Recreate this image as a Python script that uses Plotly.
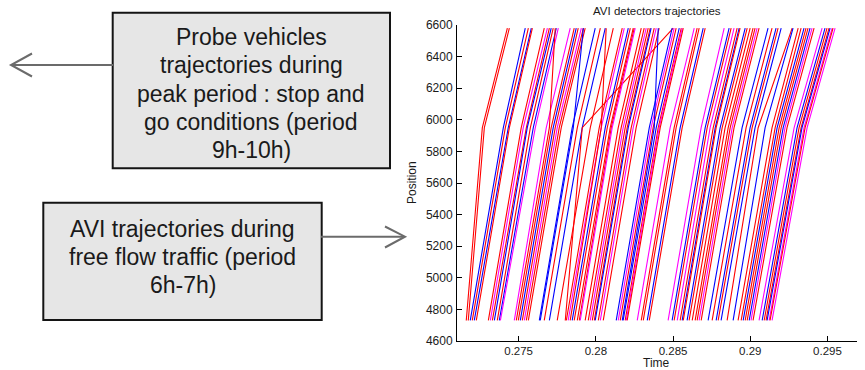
import plotly.graph_objects as go

# ---------------- data ----------------
# detector positions crossed by every trajectory (bottom, intermediate, top)
positions = [4730, 5950, 6580]

# passage times at each detector, one entry per vehicle
t_start = [
    0.27161, 0.27174, 0.27187, 0.27200, 0.27213, 0.27226,
    0.27304, 0.27317, 0.27330, 0.27343, 0.27362, 0.27375, 0.27382,
    0.27472, 0.27485, 0.27498, 0.27511, 0.27524, 0.27537, 0.27550, 0.27563,
    0.27634, 0.27640, 0.27666, 0.27699, 0.27750,
    0.27802, 0.27809, 0.27821, 0.27834, 0.27847, 0.27860, 0.27880, 0.27893, 0.27899,
    0.27931, 0.27951, 0.27964, 0.27977, 0.27990, 0.27996, 0.28016, 0.28029, 0.28048,
    0.28132, 0.28145, 0.28158, 0.28171, 0.28177, 0.28190, 0.28197, 0.28203,
    0.28268, 0.28294, 0.28307, 0.28333, 0.28346,
    0.28468, 0.28494, 0.28507, 0.28527, 0.28546, 0.28559, 0.28566,
    0.28591, 0.28604, 0.28624, 0.28643, 0.28656, 0.28669, 0.28682,
    0.28727, 0.28753, 0.28779, 0.28792, 0.28811,
    0.28850, 0.28889, 0.28921, 0.28941, 0.28954, 0.28967, 0.28980, 0.28993, 0.29005, 0.29018,
    0.29057, 0.29077, 0.29090, 0.29102, 0.29109, 0.29122, 0.29128, 0.29141,
]
t_kink = [
    0.27265, 0.27278, 0.27401, 0.27414, 0.27433, 0.27440,
    0.27517, 0.27530, 0.27550, 0.27556, 0.27576, 0.27595, 0.27608,
    0.27679, 0.27699, 0.27711, 0.27724, 0.27737, 0.27750, 0.27763, 0.27776,
    0.27847, 0.27854, 0.27880, 0.27912, 0.27964,
    0.27912, 0.28022, 0.28035, 0.28035, 0.28061, 0.28074, 0.28093, 0.28100, 0.28106,
    0.28145, 0.28164, 0.28177, 0.28190, 0.28203, 0.28210, 0.28229, 0.28242, 0.28261,
    0.28346, 0.28358, 0.28371, 0.28378, 0.28391, 0.28404, 0.28410, 0.28417,
    0.28481, 0.28507, 0.28520, 0.28546, 0.28559,
    0.28682, 0.28708, 0.28721, 0.28740, 0.28760, 0.28773, 0.28779,
    0.28805, 0.28818, 0.28837, 0.28857, 0.28870, 0.28883, 0.28895,
    0.28947, 0.28973, 0.28999, 0.29012, 0.29031,
    0.29051, 0.29096, 0.29141, 0.29161, 0.29174, 0.29187, 0.29200, 0.29213, 0.29225, 0.29238,
    0.29284, 0.29303, 0.29316, 0.29329, 0.29335, 0.29348, 0.29355, 0.29368,
]
t_end = [
    0.27427, 0.27440, 0.27543, 0.27563, 0.27582, 0.27589,
    0.27666, 0.27686, 0.27699, 0.27711, 0.27724, 0.27744, 0.27757,
    0.27834, 0.27737, 0.27860, 0.27873, 0.27886, 0.27906, 0.27919, 0.27931,
    0.27996, 0.27919, 0.28029, 0.28061, 0.28113,
    0.28501, 0.28171, 0.28184, 0.28067, 0.28210, 0.28223, 0.28242, 0.28249, 0.28255,
    0.28294, 0.28313, 0.28326, 0.28339, 0.28352, 0.28358, 0.28378, 0.28391, 0.28410,
    0.28494, 0.28507, 0.28520, 0.28404, 0.28540, 0.28553, 0.28559, 0.28566,
    0.28637, 0.28656, 0.28669, 0.28695, 0.28708,
    0.28831, 0.28863, 0.28876, 0.28895, 0.28915, 0.28928, 0.28934,
    0.28967, 0.28980, 0.28999, 0.29018, 0.29031, 0.29044, 0.29057,
    0.29115, 0.29141, 0.29167, 0.29180, 0.29200,
    0.29271, 0.29277, 0.29310, 0.29329, 0.29348, 0.29361, 0.29374, 0.29387, 0.29400, 0.29413,
    0.29465, 0.29484, 0.29497, 0.29510, 0.29517, 0.29530, 0.29536, 0.29549,
]
series_codes = (
    "r r b r b r "
    "r m r b r b m "
    "m r r b r m r r "
    "b b r b r "
    "r r m r b r r r m "
    "r r m r r b r m r "
    "b m r b b r m r "
    "m r r b r "
    "m b r m r b r "
    "b r r r r m r "
    "b r b r b "
    "r b r r b r r b m r "
    "m b r r b m r m"
).split()

x_tick_vals = [0.275, 0.28, 0.285, 0.29, 0.295]
x_tick_text = ["0.275", "0.28", "0.285", "0.29", "0.295"]
y_tick_vals = [4600, 4800, 5000, 5200, 5400, 5600, 5800, 6000, 6200, 6400, 6600]
y_tick_text = ["4600", "4800", "5000", "5200", "5400", "5600", "5800", "6000", "6200", "6400", "6600"]

title_text = "AVI detectors trajectories"
x_title = "Time"
y_title = "Position"
box1_lines = ["Probe vehicles", "trajectories during", "peak period : stop and",
              "go conditions (period", "9h-10h)"]
box2_lines = ["AVI trajectories during", "free flow traffic (period", "6h-7h)"]

# ---------------- styling ----------------
COLOR_MAP = {"r": "#ff0000", "b": "#0000ff", "m": "#ff00ff"}
FONT = "Liberation Sans, Arial, Helvetica, sans-serif"

W, H = 865, 370
PL, PR, PT, PB = 457, 857, 25, 341  # plot area in pixels


def px(x):
    return (x - PL) / (PR - PL)


def py(y):
    return (PB - y) / (PB - PT)


fig = go.Figure()
for i in range(len(t_start)):
    fig.add_trace(go.Scatter(
        x=[t_start[i], t_kink[i], t_end[i]],
        y=positions,
        mode="lines",
        line=dict(color=COLOR_MAP[series_codes[i]], width=1.1),
        hoverinfo="skip",
        showlegend=False,
    ))

axis_common = dict(
    showline=True, linecolor="#000000", linewidth=1, mirror=False,
    ticks="inside", ticklen=5, tickwidth=1, tickcolor="#000000",
    showgrid=False, zeroline=False, automargin=False,
)
fig.update_xaxes(range=[0.27101, 0.29691], tickvals=x_tick_vals, ticktext=x_tick_text,
                 tickfont=dict(family=FONT, size=11.5, color="#1a1a1a"),
                 ticklabelstandoff=-1, **axis_common)
fig.update_yaxes(range=[4600, 6600], tickvals=y_tick_vals, ticktext=y_tick_text,
                 tickfont=dict(family=FONT, size=12, color="#1a1a1a"),
                 ticklabelstandoff=1, **axis_common)

annotations = [
    dict(text=title_text, x=px(657), y=py(11), font=dict(size=11.5)),
    dict(text=x_title, x=px(656), y=py(362.5), font=dict(size=12)),
    dict(text=y_title, x=px(412), y=py(183), font=dict(size=12), textangle=-90),
]
for txt, yy in zip(box1_lines, [37, 65, 93.5, 122, 150]):
    annotations.append(dict(text=txt, x=px(251.5), y=py(yy), font=dict(size=23)))
for txt, yy in zip(box2_lines, [229, 257, 284.5]):
    annotations.append(dict(text=txt, x=px(182.5), y=py(yy), font=dict(size=23)))

for a in annotations:
    a.update(xref="paper", yref="paper", xanchor="center", yanchor="middle",
             showarrow=False)
    a["font"] = dict(family=FONT, color="#1a1a1a", **a["font"])

BOX_FILL = "#e6e6e6"
BOX_LINE = "#141414"
ARROW = "#6b6b6b"


def path(points):
    return "M " + " L ".join(f"{px(x):.5f},{py(y):.5f}" for x, y in points)


shapes = [
    # arrow from box 1 to the left
    dict(type="line", x0=px(113), y0=py(65), x1=px(12), y1=py(65),
         line=dict(color=ARROW, width=2)),
    dict(type="path", path=path([(32, 53.5), (11, 65), (32, 76.5)]),
         line=dict(color=ARROW, width=2)),
    # arrow from box 2 to the right
    dict(type="line", x0=px(321), y0=py(236.7), x1=px(404), y1=py(236.7),
         line=dict(color=ARROW, width=2)),
    dict(type="path", path=path([(385, 226.5), (405, 236.7), (385, 247.5)]),
         line=dict(color=ARROW, width=2)),
    # boxes
    dict(type="rect", x0=px(112.7), y0=py(12.7), x1=px(390), y1=py(168.3),
         fillcolor=BOX_FILL, line=dict(color=BOX_LINE, width=2), layer="below"),
    dict(type="rect", x0=px(43.3), y0=py(202.7), x1=px(321.7), y1=py(320),
         fillcolor=BOX_FILL, line=dict(color=BOX_LINE, width=2), layer="below"),
]
for s in shapes:
    s.update(xref="paper", yref="paper")

fig.update_layout(
    width=W, height=H,
    margin=dict(l=PL, r=W - PR, t=PT, b=H - PB, pad=0),
    paper_bgcolor="#ffffff", plot_bgcolor="#ffffff",
    font=dict(family=FONT, color="#1a1a1a"),
    showlegend=False,
    annotations=annotations,
    shapes=shapes,
    hovermode=False,
)

fig.write_html(
    "out.html",
    config={"displayModeBar": False},
    post_script="document.body.style.margin='0';document.body.style.padding='0';"
                "document.body.style.overflow='hidden';",
)
